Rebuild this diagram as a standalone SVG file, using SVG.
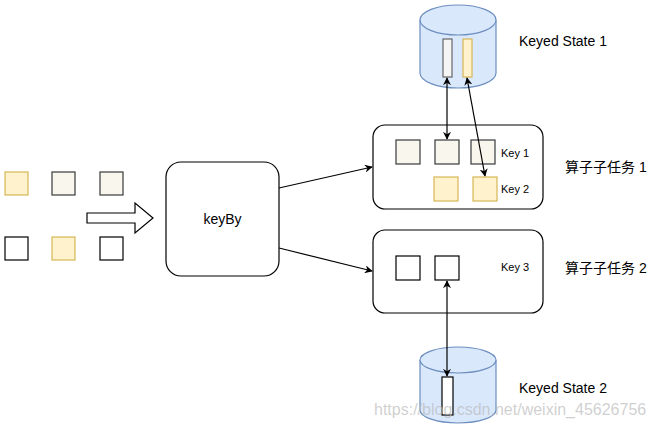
<svg xmlns="http://www.w3.org/2000/svg" width="658" height="430" viewBox="0 0 658 430">
<style>
.t{font-family:"Liberation Sans",Arial,sans-serif;fill:#000}
.cyl{fill:#dae8fc;stroke:#6c8ebf;stroke-width:1.2}
.box{fill:#fff;stroke:#000;stroke-width:1.2}
.y{fill:#fff2cc;stroke:#d6b656;stroke-width:1.2}
.b{fill:#f9f7ed;stroke:#36393d;stroke-width:1.2}
.w{fill:#fff;stroke:#000;stroke-width:1.2}
.e{fill:none;stroke:#000;stroke-width:1.2}
</style>
<defs>
<marker id="ah" viewBox="0 0 10 10" refX="9" refY="5" markerWidth="8" markerHeight="8" orient="auto-start-reverse" markerUnits="userSpaceOnUse">
<path d="M0,0 L10,5 L0,10 L3,5 Z" fill="#000"/>
</marker>
</defs>
<rect width="658" height="430" fill="#fff"/>
<g id="inputs">
<rect class="y" x="5" y="172" width="23" height="23"/>
<rect class="b" x="52" y="172" width="23" height="23"/>
<rect class="b" x="100" y="172" width="23" height="23"/>
<rect class="w" x="5" y="237" width="23" height="23"/>
<rect class="y" x="52" y="237" width="23" height="23"/>
<rect class="w" x="100" y="237" width="23" height="23"/>
</g>
<g id="bigarrow">
<path d="M87,213 L135,213 L135,203 L153,218 L135,233 L135,223 L87,223 Z" fill="#fff" stroke="#000" stroke-width="1.2"/>
</g>
<g id="keyby">
<rect class="box" x="166" y="162" width="113" height="114" rx="15"/>
<text class="t" x="222.5" y="224" font-size="14" text-anchor="middle">keyBy</text>
</g>
<g id="state1">
<path class="cyl" d="M420,20 L420,73 A38,15 0 0 0 496,73 L496,20"/>
<ellipse class="cyl" cx="458" cy="20" rx="38" ry="15"/>
<rect x="443" y="39" width="9" height="38" fill="#f5f5f5" stroke="#666" stroke-width="1.2"/>
<rect class="y" x="463" y="39" width="9" height="38"/>
<text class="t" x="519" y="46" font-size="14">Keyed State 1</text>
</g>
<g id="task1">
<rect class="box" x="373" y="125" width="170" height="84" rx="12"/>
<rect class="b" x="396" y="140" width="24" height="24"/>
<rect class="b" x="435" y="140" width="24" height="24"/>
<rect class="b" x="471" y="140" width="24" height="24"/>
<rect class="y" x="434" y="177" width="24" height="24"/>
<rect class="y" x="473" y="177" width="24" height="24"/>
<text class="t" x="501" y="157" font-size="11">Key 1</text>
<text class="t" x="501" y="193" font-size="11">Key 2</text>
<text class="t" x="565" y="172" font-size="14" style="font-family:'Liberation Sans','Noto Sans CJK SC',sans-serif">算子子任务 1</text>
</g>
<g id="task2">
<rect class="box" x="373" y="230" width="170" height="83" rx="12"/>
<rect class="w" x="396" y="256" width="24" height="24"/>
<rect class="w" x="435" y="256" width="24" height="24"/>
<text class="t" x="501" y="271" font-size="11">Key 3</text>
<text class="t" x="565" y="273" font-size="14" style="font-family:'Liberation Sans','Noto Sans CJK SC',sans-serif">算子子任务 2</text>
</g>
<g id="state2">
<path class="cyl" d="M420,360 L420,410 A38,13 0 0 0 496,410 L496,360"/>
<ellipse class="cyl" cx="458" cy="360" rx="38" ry="13"/>
<rect x="442" y="377" width="11" height="38" fill="#fff" stroke="#000" stroke-width="1.2"/>
<text class="t" x="519" y="393" font-size="14">Keyed State 2</text>
</g>
<g id="connectors">
<line class="e" x1="279" y1="188" x2="372" y2="167" marker-end="url(#ah)"/>
<line class="e" x1="279" y1="248" x2="372" y2="271" marker-end="url(#ah)"/>
<line class="e" x1="447" y1="78" x2="447" y2="139" marker-start="url(#ah)" marker-end="url(#ah)"/>
<line class="e" x1="467" y1="78" x2="485" y2="176" marker-start="url(#ah)" marker-end="url(#ah)"/>
<line class="e" x1="447" y1="281" x2="447" y2="376" marker-start="url(#ah)" marker-end="url(#ah)"/>
</g>
<text x="374" y="415" font-size="16" fill="#bbb" fill-opacity="0.7" font-family="Liberation Sans,Arial,sans-serif">https://blog.csdn.net/weixin_45626756</text>
</svg>
